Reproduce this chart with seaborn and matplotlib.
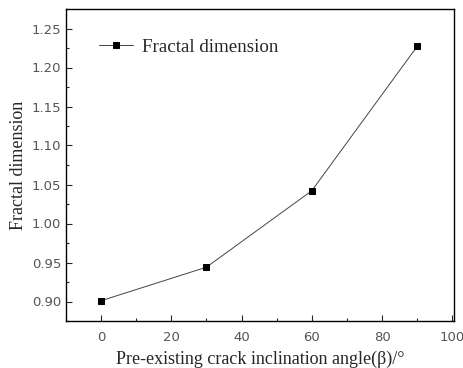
import matplotlib
matplotlib.use("Agg")
import matplotlib.pyplot as plt
import seaborn as sns
import pandas as pd
from matplotlib.ticker import MultipleLocator

angles = [0, 30, 60, 90]
fractal = [0.901, 0.944, 1.042, 1.227]
series_name = "Fractal dimension"

sns.set_style("ticks")
plt.rcParams['font.family'] = ['Liberation Serif', 'DejaVu Serif']

df = pd.DataFrame({"angle": angles, "fd": fractal})

fig = plt.figure(figsize=(4.64, 3.68), dpi=100)
ax = fig.add_axes([66/464, 1-321/368, (454-66)/464, (321-9)/368])
sns.lineplot(data=df, x="angle", y="fd", ax=ax, color="#444444", linewidth=0.7,
             marker="s", markersize=5, markerfacecolor="black", markeredgecolor="black",
             label=series_name)

ax.set_xlim(-10, 100.5)
ax.set_ylim(0.875, 1.275)
ax.xaxis.set_major_locator(MultipleLocator(20))
ax.xaxis.set_minor_locator(MultipleLocator(10))
ax.yaxis.set_major_locator(MultipleLocator(0.05))
ax.yaxis.set_minor_locator(MultipleLocator(0.025))
ax.yaxis.set_major_formatter(matplotlib.ticker.FormatStrFormatter('%.2f'))
ax.tick_params(which='both', direction='in', top=False, right=False)
ax.tick_params(which='major', length=4, width=0.8, labelsize=9.5, labelcolor='#555555')
ax.tick_params(axis='x', which='major', pad=7)
ax.tick_params(which='minor', length=2, width=0.8)
for lab in ax.get_xticklabels() + ax.get_yticklabels():
    lab.set_family('DejaVu Sans')
for s in ax.spines.values():
    s.set_linewidth(1.0)
    s.set_color('black')

ax.set_xlabel("Pre-existing crack inclination angle(β)/°", fontsize=13, labelpad=5)
ax.set_ylabel("Fractal dimension", fontsize=13, labelpad=3)

ax.legend(loc='upper left', bbox_to_anchor=(0.04, 0.96), frameon=False, fontsize=13.7,
          handlelength=1.8, handletextpad=0.5)

fig.savefig("out.png", dpi=100)
